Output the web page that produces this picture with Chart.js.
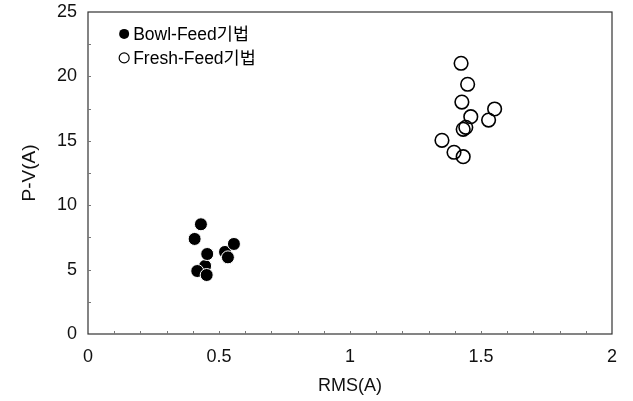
<!DOCTYPE html>
<html><head><meta charset="utf-8">
<script src="https://cdn.jsdelivr.net/npm/chart.js@4"></script>
<style>html,body{margin:0;padding:0;background:#fff}#wrap{width:633px;height:401px}</style>
</head><body><div id="wrap"><canvas id="c" width="633" height="401"></canvas></div>
<script>
const seriesNames = ["Bowl-Feed기법", "Fresh-Feed기법"];
const bowlRMS = [0.447, 0.523, 0.431, 0.407, 0.455, 0.557, 0.534, 0.417, 0.453];
const bowlPV  = [5.28, 6.37, 8.52, 7.38, 6.21, 6.99, 5.95, 4.89, 4.58];
const freshRMS = [1.424, 1.449, 1.427, 1.461, 1.552, 1.529, 1.442, 1.432, 1.351, 1.397, 1.432];
const freshPV  = [21.02, 19.39, 18.01, 16.87, 17.47, 16.61, 16.05, 15.89, 15.04, 14.11, 13.77];
const xTicks = [0, 0.5, 1, 1.5, 2];
const yTicks = [0, 5, 10, 15, 20, 25];
const xTitle = "RMS(A)";
const yTitle = "P-V(A)";

const FONT = '"Liberation Sans", Arial, "Noto Sans CJK KR", sans-serif';
const toPts = (xs, ys) => xs.map((x, i) => ({x, y: ys[i]}));

const framePlugin = {
  id: 'frame',
  afterDraw(chart) {
    const {ctx, chartArea: a, scales} = chart;
    ctx.save();
    ctx.strokeStyle = '#333'; ctx.lineWidth = 1.2;
    ctx.strokeRect(a.left, a.top, a.right - a.left, a.bottom - a.top);
    ctx.strokeStyle = '#777'; ctx.lineWidth = 1;
    ctx.beginPath();
    for (let v = 0.1; v < 2; v += 0.1) {
      const px = Math.round(scales.x.getPixelForValue(v)) + 0.5;
      ctx.moveTo(px, a.bottom); ctx.lineTo(px, a.bottom - 3);
    }
    for (let v = 2.5; v < 25; v += 2.5) {
      const py = Math.round(scales.y.getPixelForValue(v)) + 0.5;
      ctx.moveTo(a.left, py); ctx.lineTo(a.left + 3, py);
    }
    ctx.stroke();
    // legend
    ctx.font = '17.5px ' + FONT;
    ctx.textBaseline = 'middle';
    ctx.fillStyle = '#000';
    const lx = scales.x.getPixelForValue(0.138);
    const ly0 = scales.y.getPixelForValue(23.3);
    const step = 24;
    chart.data.datasets.forEach((ds, i) => {
      const y = ly0 + i * step;
      ctx.beginPath();
      ctx.arc(lx, y, 5, 0, Math.PI * 2);
      if (i === 0) { ctx.fillStyle = '#000'; ctx.fill(); }
      else { ctx.strokeStyle = '#000'; ctx.lineWidth = 1.2; ctx.stroke(); }
      ctx.fillStyle = '#000';
      ctx.fillText(ds.label, lx + 9, y + 1);
    });
    ctx.restore();
  }
};

new Chart(document.getElementById('c'), {
  type: 'scatter',
  data: {
    datasets: [
      { label: seriesNames[0], data: toPts(bowlRMS, bowlPV), pointRadius: 6.5, pointHoverRadius: 6.5,
        backgroundColor: '#000', borderColor: '#fff', borderWidth: 1 },
      { label: seriesNames[1], data: toPts(freshRMS, freshPV), pointRadius: 6.8, pointHoverRadius: 6.8,
        backgroundColor: 'rgba(0,0,0,0)', borderColor: '#000', borderWidth: 1.6 }
    ]
  },
  plugins: [framePlugin],
  options: {
    responsive: false, animation: false, devicePixelRatio: 1,
    layout: { padding: { top: 12, right: 21, left: 0, bottom: 0 } },
    plugins: { legend: { display: false }, tooltip: { enabled: false } },
    scales: {
      x: {
        type: 'linear', min: 0, max: 2,
        afterBuildTicks: s => { s.ticks = xTicks.map(v => ({value: v})); },
        afterFit: s => { s.height = 67; s.paddingLeft = 0; s.paddingRight = 0; },
        grid: { display: false, drawTicks: false },
        border: { display: false },
        ticks: { color: '#111', padding: 12, font: { size: 18, family: FONT }, maxRotation: 0,
                 callback: v => String(v) },
        title: { display: true, text: xTitle, color: '#111', font: { size: 18, family: FONT }, padding: { top: 2 } }
      },
      y: {
        type: 'linear', min: 0, max: 25,
        afterBuildTicks: s => { s.ticks = yTicks.map(v => ({value: v})); },
        afterFit: s => { s.width = 88; s.paddingTop = 0; s.paddingBottom = 0; },
        grid: { display: false, drawTicks: false },
        border: { display: false },
        ticks: { color: '#111', padding: 11, font: { size: 18, family: FONT }, callback: v => String(v) },
        title: { display: true, text: yTitle, color: '#111', font: { size: 19, family: FONT }, padding: { bottom: 0, top: 18 } }
      }
    }
  }
});
</script></body></html>
